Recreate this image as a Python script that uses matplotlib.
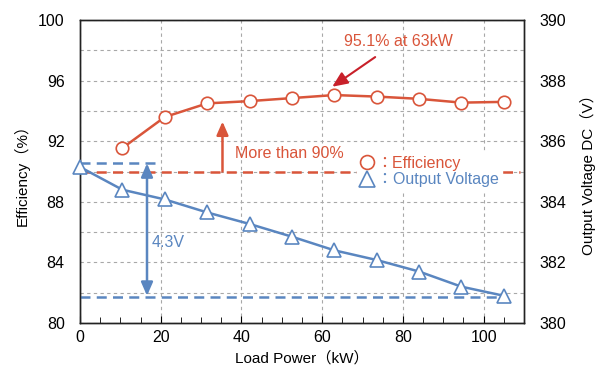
import matplotlib.pyplot as plt
from matplotlib.lines import Line2D
from matplotlib.ticker import MultipleLocator

plt.rcParams['font.family'] = ['Liberation Sans', 'Noto Sans CJK JP', 'DejaVu Sans']

# data
load_eff = [10.5, 21, 31.5, 42, 52.5, 63, 73.5, 84, 94.5, 105]
efficiency = [91.55, 93.6, 94.5, 94.65, 94.85, 95.05, 94.95, 94.8, 94.55, 94.6]

load_v = [0, 10.5, 21, 31.5, 42, 52.5, 63, 73.5, 84, 94.5, 105]
voltage = [385.15, 384.4, 384.08, 383.65, 383.27, 382.85, 382.4, 382.08, 381.7, 381.2, 380.9]

red = '#d9553a'
blue = '#5a86c0'
grey = '#a8a8a8'

fig = plt.figure(figsize=(6.02, 3.65), dpi=100)
ax = fig.add_axes([0.1329, 0.115, 0.7375, 0.83])
ax2 = ax.twinx()

ax.set_xlim(0, 110)
ax.set_ylim(80, 100)
ax2.set_ylim(380, 390)

ax.xaxis.set_major_locator(MultipleLocator(20))
ax.xaxis.set_minor_locator(MultipleLocator(5))
ax.yaxis.set_major_locator(MultipleLocator(4))
ax.yaxis.set_minor_locator(MultipleLocator(2))
ax2.yaxis.set_major_locator(MultipleLocator(2))

ax.grid(True, which='major', axis='x', color=grey, ls=(0, (3, 3)), lw=0.8)
ax.grid(True, which='both', axis='y', color=grey, ls=(0, (3, 3)), lw=0.8)

ax.tick_params(axis='x', which='both', direction='in', labelsize=11.5, pad=5)
ax.tick_params(axis='x', which='major', length=5)
ax.tick_params(axis='x', which='minor', length=4)
ax.tick_params(axis='y', which='both', length=0, labelsize=11.5, pad=11)
ax2.tick_params(axis='y', length=0, labelsize=11.5, pad=11)

for a in (ax, ax2):
    for s in a.spines.values():
        s.set_color('#222222')
        s.set_linewidth(1.0)

ax.set_xlabel('Load Power（kW）', fontsize=11, labelpad=4)
ax.set_ylabel('Efficiency（%）', fontsize=11, labelpad=6)
ax2.set_ylabel('Output Voltage DC（V）', fontsize=11, labelpad=10)

# efficiency
ax.axhline(90, xmin=0, xmax=0.99, color=red, ls=(0, (4, 2.5)), lw=1.8, zorder=2)
ax.plot(load_eff, efficiency, color=red, lw=1.8, marker='o', ms=9,
        mfc='white', mec=red, mew=1.2, zorder=3)
ax.annotate('', xy=(35.3, 93.3), xytext=(35.3, 90),
            arrowprops=dict(arrowstyle='-|>,head_length=0.8,head_width=0.35',
                            color=red, lw=1.8, shrinkA=0, shrinkB=0))
ax.text(38.5, 91.2, 'More than 90%', color=red, fontsize=11.5, va='center')
ax.annotate('95.1% at 63kW', xy=(62.5, 95.6), xytext=(78.8, 98.6),
            color=red, fontsize=11.5, ha='center', va='center',
            arrowprops=dict(arrowstyle='-|>,head_length=0.8,head_width=0.35',
                            color='#c8202a', lw=1.5, shrinkA=7, shrinkB=0))

# output voltage
ax2.hlines(385.27, 0, 18.7, color=blue, ls=(0, (4, 2.5)), lw=1.8)
ax2.hlines(380.85, 0, 103.5, color=blue, ls=(0, (4, 2.5)), lw=1.8)
ax2.plot(load_v, voltage, color=blue, lw=1.8, marker='^', ms=10,
         mfc='white', mec=blue, mew=1.2, zorder=3, clip_on=False)
ax2.annotate('', xy=(16.6, 385.27), xytext=(16.6, 380.9),
             arrowprops=dict(arrowstyle='<|-|>,head_length=0.8,head_width=0.35',
                             color=blue, lw=1.8, shrinkA=0, shrinkB=0))
ax2.text(17.8, 382.65, '4.3V', color=blue, fontsize=11.5, va='center')

handles = [Line2D([], [], ls='none', marker='o', ms=10, mfc='none', mec=red, mew=1.2),
           Line2D([], [], ls='none', marker='^', ms=11, mfc='none', mec=blue, mew=1.2)]
leg = ax2.legend(handles, ['：Efficiency', '：Output Voltage'],
                 loc='center left', bbox_to_anchor=(0.625, 0.5),
                 frameon=True, fancybox=False, framealpha=1, edgecolor='white',
                 handlelength=0.8, handletextpad=0.2, borderpad=0.2,
                 labelspacing=0.1, fontsize=11.5, borderaxespad=0)
leg.get_texts()[0].set_color(red)
leg.get_texts()[1].set_color(blue)

fig.savefig('out.png', dpi=100)
